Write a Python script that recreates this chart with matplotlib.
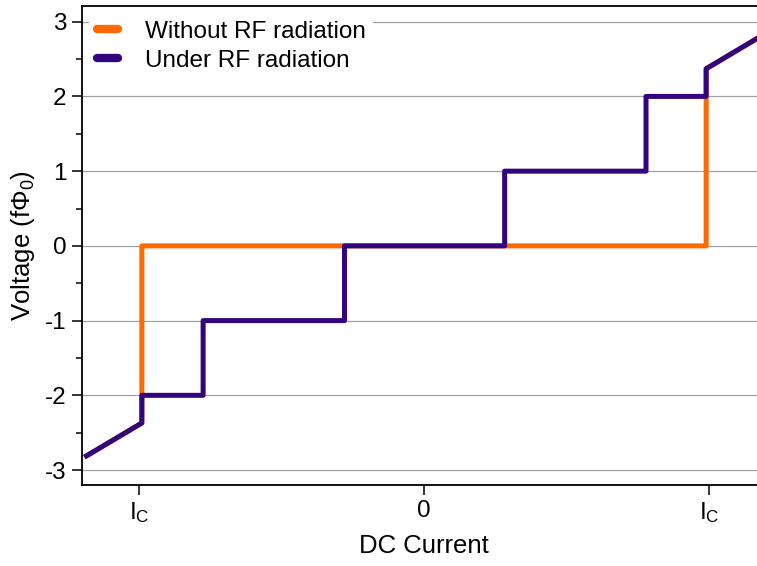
import matplotlib
matplotlib.use("Agg")
import matplotlib.pyplot as plt
from matplotlib.ticker import MultipleLocator

plt.rcParams['font.family'] = ['Liberation Sans', 'DejaVu Sans']
plt.rcParams['mathtext.fontset'] = 'custom'
plt.rcParams['mathtext.rm'] = 'Liberation Sans'
plt.rcParams['mathtext.it'] = 'Liberation Sans:italic'
plt.rcParams['axes.unicode_minus'] = False

# Data (current in units of I_C, voltage in units of f*Phi_0)
i_without = [-1.184, -0.99, -0.99, 0.99, 0.99, 1.175]
v_without = [-2.81, -2.37, 0.0, 0.0, 2.37, 2.79]

i_under = [-1.184, -0.99, -0.99, -0.775, -0.775, -0.279, -0.279, 0.283, 0.283, 0.779, 0.779, 0.99, 0.99, 1.175]
v_under = [-2.81, -2.37, -2.0, -2.0, -1.0, -1.0, 0.0, 0.0, 1.0, 1.0, 2.0, 2.0, 2.37, 2.79]

xticks = [-1, 0, 1]
xticklabels = [r'I$_\mathrm{C}$', '0', r'I$_\mathrm{C}$']
yticks = [-3, -2, -1, 0, 1, 2, 3]

c_without = '#ff6a00'
c_under = '#32047e'

fig = plt.figure(figsize=(7.57, 5.66), dpi=100)
ax = fig.add_axes([82/757, 1-485/566, (766-82)/757, (485-6)/566])

ax.plot(i_without, v_without, color=c_without, lw=3.6, label='Without RF radiation', zorder=3)
ax.plot(i_under, v_under, color=c_under, lw=3.6, label='Under RF radiation', zorder=4)

ax.set_xlim(-1.2, 1.2)
ax.set_ylim(-3.2, 3.21)
ax.set_xticks(xticks)
ax.set_xticklabels(xticklabels)
ax.set_yticks(yticks)
ax.set_yticklabels([str(v) for v in yticks])
ax.yaxis.set_minor_locator(MultipleLocator(0.5))
ax.grid(axis='y', which='major', color='#a0a0a0', lw=0.9, zorder=0)
ax.set_axisbelow(True)

ax.tick_params(axis='both', which='major', direction='out', length=7, width=1.1, labelsize=17.5, pad=4)
ax.tick_params(axis='y', which='minor', direction='out', length=4, width=1.1)
for s in ['left', 'bottom', 'top', 'right']:
    ax.spines[s].set_linewidth(1.3)

ax.set_xlabel('DC Current', fontsize=18.5, labelpad=6)
ax.set_ylabel(r'Voltage (fΦ$_0$)', fontsize=18.5, labelpad=6)

leg = ax.legend(loc='upper left', frameon=True, fontsize=17.5, handlelength=0.9,
                handletextpad=1.1, borderaxespad=0.3, labelspacing=0.3, borderpad=0.3)
leg.get_frame().set_edgecolor('none')
leg.get_frame().set_facecolor('white')
leg.get_frame().set_alpha(1)
for h in leg.get_lines():
    h.set_linewidth(6)
    h.set_solid_capstyle('round')

fig.savefig('out.png', dpi=100)
